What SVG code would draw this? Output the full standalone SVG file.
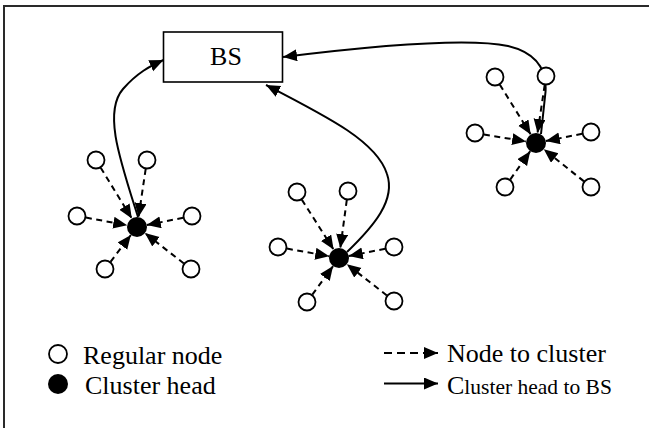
<svg xmlns="http://www.w3.org/2000/svg" width="649" height="428" viewBox="0 0 649 428">
  <style>
    .frame { fill: none; stroke: #2a2a2a; stroke-width: 2; }
    .bs { fill: #fff; stroke: #000; stroke-width: 1.6; }
    .reg { fill: #fff; stroke: #000; stroke-width: 1.8; }
    .head { fill: #000; }
    .dash { fill: none; stroke: #000; stroke-width: 2; stroke-dasharray: 6 4.5; marker-end: url(#tip); }
    .solid { fill: none; stroke: #000; stroke-width: 2; }
    .lbl { font-family: "Liberation Serif", "Times New Roman", serif; fill: #000; }
  </style>
  <defs>
    <marker id="tip" markerUnits="userSpaceOnUse" markerWidth="16" markerHeight="14" refX="14" refY="6" orient="auto">
      <path d="M0,0 L14,6 L0,12 z" fill="#000"/>
    </marker>
  </defs>

  <rect width="649" height="428" fill="#fff"/>
  <!-- outer frame (right and bottom sides run past the canvas) -->
  <rect class="frame" x="4" y="6" width="700" height="480"/>

  <!-- connectors -->
  <g id="connectors">
    <!-- cluster 1: members to head -->
    <line class="dash" x1="100.7" y1="167.7" x2="131.8" y2="218.5"/>
    <line class="dash" x1="145.7" y1="168.9" x2="138.5" y2="217.1"/>
    <line class="dash" x1="85.9" y1="217.6" x2="127.2" y2="225.2"/>
    <line class="dash" x1="183.2" y1="217.8" x2="146.8" y2="225.0"/>
    <line class="dash" x1="110.5" y1="261.8" x2="130.9" y2="235.0"/>
    <line class="dash" x1="183.9" y1="263.5" x2="144.9" y2="233.1"/>
    <!-- cluster 2: members to head -->
    <line class="dash" x1="301.8" y1="199.6" x2="333.6" y2="249.6"/>
    <line class="dash" x1="346.8" y1="199.9" x2="340.3" y2="248.1"/>
    <line class="dash" x1="286.9" y1="248.6" x2="329.2" y2="256.2"/>
    <line class="dash" x1="385.2" y1="248.8" x2="348.8" y2="256.0"/>
    <line class="dash" x1="312.3" y1="294.7" x2="333.1" y2="266.1"/>
    <line class="dash" x1="386.9" y1="295.5" x2="346.9" y2="264.2"/>
    <!-- cluster 3: members to head -->
    <line class="dash" x1="499.8" y1="84.6" x2="530.7" y2="134.5"/>
    <line class="dash" x1="544.7" y1="84.9" x2="537.5" y2="133.1"/>
    <line class="dash" x1="483.9" y1="134.5" x2="526.1" y2="141.4"/>
    <line class="dash" x1="582.2" y1="133.8" x2="545.8" y2="141.0"/>
    <line class="dash" x1="510.2" y1="179.6" x2="530.2" y2="151.2"/>
    <line class="dash" x1="584.0" y1="181.4" x2="543.8" y2="149.3"/>

    <!-- cluster heads to BS -->
    <path class="solid" marker-end="url(#tip)" d="M138 217 C120 160 103 112 123 89 C137 73 150 66 163.5 60"/>
    <path class="solid" marker-end="url(#tip)" d="M347 252 C374 226 396 200 387 174 C377 142 330 118 266 85"/>
    <path class="solid" marker-end="url(#tip)" d="M541 134 L545.5 92 C547 70 537 53 508 46 C470 38 380 45 283 57"/>
  </g>

  <!-- base station -->
  <g id="bs">
    <rect class="bs" x="163.5" y="32" width="119" height="50"/>
    <text class="lbl" x="226" y="65" font-size="26" text-anchor="middle">BS</text>
  </g>

  <!-- cluster 1 -->
  <g id="cluster1">
    <circle class="reg" cx="96" cy="160" r="8.5"/>
    <circle class="reg" cx="147" cy="160" r="8.5"/>
    <circle class="reg" cx="77" cy="216" r="8.5"/>
    <circle class="reg" cx="192" cy="216" r="8.5"/>
    <circle class="reg" cx="105" cy="269" r="8.5"/>
    <circle class="reg" cx="191" cy="269" r="8.5"/>
    <circle class="head" cx="137" cy="227" r="10"/>
  </g>

  <!-- cluster 2 -->
  <g id="cluster2">
    <circle class="reg" cx="297" cy="192" r="8.5"/>
    <circle class="reg" cx="348" cy="191" r="8.5"/>
    <circle class="reg" cx="278" cy="247" r="8.5"/>
    <circle class="reg" cx="394" cy="247" r="8.5"/>
    <circle class="reg" cx="307" cy="302" r="8.5"/>
    <circle class="reg" cx="394" cy="301" r="8.5"/>
    <circle class="head" cx="339" cy="258" r="10"/>
  </g>

  <!-- cluster 3 (the BS link passes through the upper-right member) -->
  <g id="cluster3">
    <circle class="reg" cx="495" cy="77" r="8.5"/>
    <circle class="reg" cx="546" cy="76" r="8.5" fill="none"/>
    <circle class="reg" cx="475" cy="133" r="8.5"/>
    <circle class="reg" cx="591" cy="132" r="8.5"/>
    <circle class="reg" cx="505" cy="187" r="8.5"/>
    <circle class="reg" cx="591" cy="187" r="8.5"/>
    <circle class="head" cx="536" cy="143" r="10"/>
  </g>

  <!-- legend -->
  <g id="legend">
    <circle class="reg" cx="58" cy="354" r="9"/>
    <text class="lbl" x="83" y="364" font-size="26">Regular node</text>
    <circle class="head" cx="58" cy="384" r="10"/>
    <text class="lbl" x="85" y="394" font-size="26">Cluster head</text>

    <line x1="384" y1="353" x2="438" y2="353" stroke="#000" stroke-width="1.8" stroke-dasharray="8 5" marker-end="url(#tip)"/>
    <text class="lbl" x="447" y="362" font-size="26">Node to cluster</text>
    <line x1="384" y1="383.5" x2="438" y2="383.5" stroke="#000" stroke-width="2" marker-end="url(#tip)"/>
    <text class="lbl" x="447" y="394"><tspan font-size="26">C</tspan><tspan font-size="21.5">luster head to BS</tspan></text>
  </g>
</svg>
